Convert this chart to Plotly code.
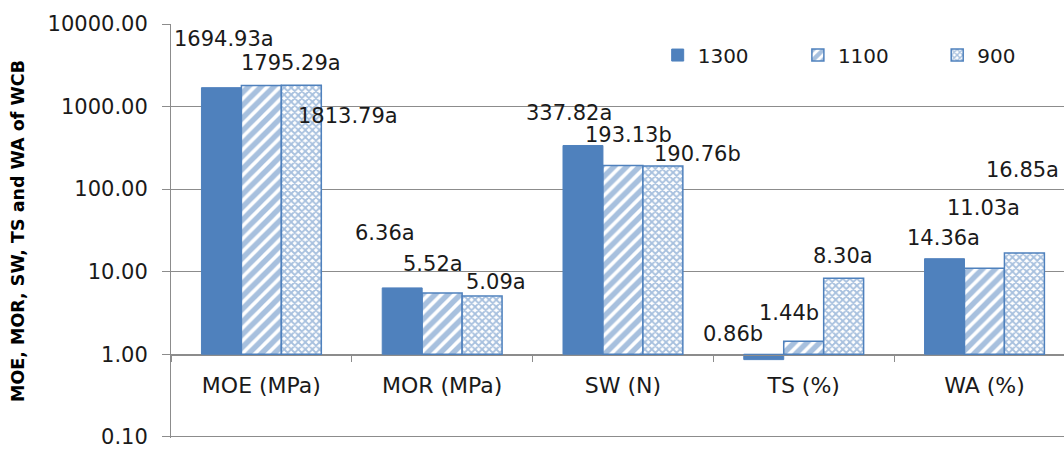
import plotly.graph_objects as go

# Board properties per pressing temperature
categories = ["MOE (MPa)", "MOR (MPa)", "SW (N)", "TS (%)", "WA (%)"]
series_names = ["1300", "1100", "900"]
values_1300 = [1694.93, 6.36, 337.82, 0.86, 14.36]
values_1100 = [1795.29, 5.52, 193.13, 1.44, 11.03]
values_900 = [1813.79, 5.09, 190.76, 8.30, 16.85]
letters_1300 = ["a", "a", "a", "b", "a"]
letters_1100 = ["a", "a", "b", "b", "a"]
letters_900 = ["a", "a", "b", "a", "a"]
tick_values = [0.1, 1, 10, 100, 1000, 10000]

# Label placement: (offset from category centre, log10 height) per series
label_pos_1300 = [(-0.207, 3.818), (-0.318, 1.470), (-0.296, 2.923), (-0.390, 0.247), (-0.229, 1.409)]
label_pos_1100 = [(0.163, 3.528), (-0.052, 1.094), (0.030, 2.656), (-0.080, 0.501), (-0.008, 1.772)]
label_pos_900 = [(0.478, 2.886), (0.296, 0.877), (0.412, 2.426), (0.218, 1.191), (0.213, 2.232)]

BLUE = "#4F81BD"
GRID = "#8c8c8c"
FONT = "DejaVu Sans"
TEXT = "#1a1a1a"
BASE = 1.0  # horizontal axis crosses the log scale at 1

styles = [
    dict(color=BLUE, line=dict(color=BLUE, width=1)),
    dict(color="white", line=dict(color=BLUE, width=1.5),
         pattern=dict(shape="/", fgcolor=BLUE, bgcolor="white", size=9, solidity=0.6)),
    dict(color="white", line=dict(color=BLUE, width=1.5),
         pattern=dict(shape="x", fgcolor=BLUE, bgcolor="white", size=5, solidity=0.6)),
]

fig = go.Figure()
all_values = [values_1300, values_1100, values_900]
for k, (name, vals, st) in enumerate(zip(series_names, all_values, styles)):
    fig.add_trace(go.Bar(
        name=name,
        x=categories,
        y=[v - BASE for v in vals],
        base=[BASE] * len(vals),
        customdata=vals,
        hovertemplate="%{x}<br>" + name + ": %{customdata:.2f}<extra></extra>",
        marker=st,
        showlegend=True,
        legend="legend" if k == 0 else f"legend{k + 1}",
    ))

annotations = []
for vals, lets, pos in zip(all_values, [letters_1300, letters_1100, letters_900],
                           [label_pos_1300, label_pos_1100, label_pos_900]):
    for i, (v, l, (dx, ly)) in enumerate(zip(vals, lets, pos)):
        annotations.append(dict(
            x=i + dx, y=ly, xref="x", yref="y",
            text=f"{v:.2f}{l}", showarrow=False,
            font=dict(family=FONT, size=21, color=TEXT),
            xanchor="center", yanchor="middle",
        ))

legend_common = dict(
    orientation="h", yanchor="middle", xanchor="left", y=0.925,
    font=dict(family=FONT, size=20, color=TEXT), bgcolor="rgba(0,0,0,0)",
)

fig.update_layout(
    width=1064, height=449,
    margin=dict(l=171, r=0, t=24, b=11, autoexpand=False),
    paper_bgcolor="white", plot_bgcolor="white",
    showlegend=True,
    barmode="group", bargap=0.337, bargroupgap=0.0,
    annotations=annotations,
    legend=dict(x=0.545, **legend_common),
    legend2=dict(x=0.702, **legend_common),
    legend3=dict(x=0.858, **legend_common),
    xaxis=dict(
        type="category", range=[-0.5, 4.44],
        anchor="free", position=83 / 414,
        showline=True, linecolor=GRID, linewidth=1,
        ticks="outside", tickson="boundaries", ticklen=6, tickcolor=GRID,
        showgrid=False, zeroline=False, automargin=False,
        tickfont=dict(family=FONT, size=22, color=TEXT),
        ticklabelstandoff=11,
    ),
    yaxis=dict(
        type="log", range=[-1.015, 4.0005],
        tickvals=tick_values, tickformat=".2f",
        showline=True, linecolor=GRID, linewidth=1,
        showgrid=True, gridcolor=GRID, gridwidth=1,
        ticks="outside", ticklen=8, tickcolor=GRID,
        tickfont=dict(family=FONT, size=21, color=TEXT),
        ticklabelstandoff=10, ticklabeloverflow="allow",
        zeroline=False, automargin=False,
        title=dict(text="<b>MOE, MOR, SW, TS and WA of WCB</b>",
                   font=dict(family=FONT, size=17.5, color="#000000"), standoff=18),
    ),
)

fig.write_html("out.html")
